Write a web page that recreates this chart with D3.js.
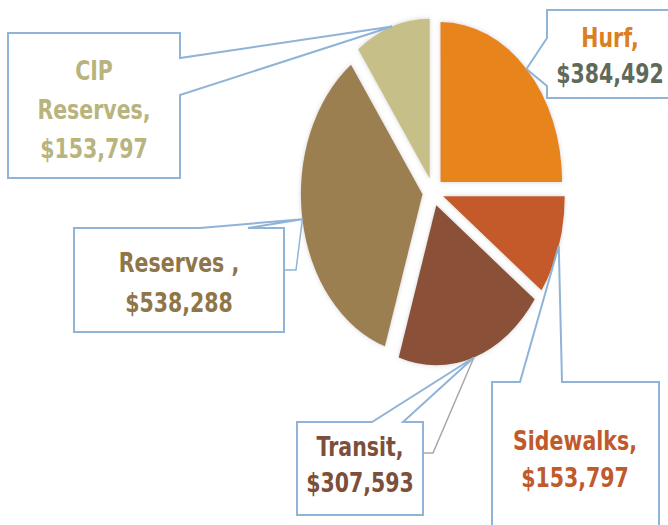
<!DOCTYPE html>
<html>
<head>
<meta charset="utf-8">
<script src="https://cdn.jsdelivr.net/npm/d3@7"></script>
<style>
  body { margin: 0; background: #fff; }
  svg { display: block; }
</style>
</head>
<body>
<div class="vis-pie"></div>
<script>
// data
const categories = ["Hurf", "Sidewalks", "Transit", "Reserves ", "CIP Reserves"];
const values = [384492, 153797, 307593, 538288, 153797];
const sliceColors = ["#E8841A", "#C45A2A", "#8A5139", "#9C7F51", "#C7BF88"];

// label text lines + colours (name line(s), value line)
const labelLines = [["Hurf,"], ["Sidewalks,"], ["Transit,"], ["Reserves ,"], ["CIP", "Reserves,"]];
const nameColors = ["#DB7F20", "#C05A2C", "#7D4F3B", "#8F7648", "#B9B47D"];
const valueColors = ["#5F6A5B", "#C05A2C", "#7D4F3B", "#8F7648", "#B9B47D"];

const width = 668, height = 525;
const cx = 433, cy = 192;
const R = 160, sx = 0.76, explode = 14;
const boxStroke = "#8FB4D8";

// callout boxes: rect + which edge carries the pointer base
const boxes = [
  {x: 547, y: 10, w: 140, h: 88, edge: "left", b0: 38, b1: 86, tx: 610, ty: 47, lh: 36},
  {x: 492, y: 382, w: 167, h: 160, edge: "top", b0: 520, b1: 562, tx: 575, ty: 450, lh: 37},
  {x: 297, y: 422, w: 126, h: 93, edge: "top", b0: 372, b1: 403, tx: 360, ty: 456, lh: 36,
   leader: [[423, 453], [433, 453]], leaderColor: "#A8A8A8"},
  {x: 74, y: 228, w: 210, h: 104, edge: "top", b0: 200, b1: 248, tx: 179, ty: 272, lh: 40,
   leader: [[284, 270], [296, 270]], leaderColor: boxStroke},
  {x: 8, y: 33, w: 172, h: 145, edge: "right", b0: 58, b1: 95, tx: 94, ty: 80, lh: 39}
];

const fmt = d3.format("$,");

const svg = d3.select(".vis-pie")
  .append("svg")
  .attr("width", width)
  .attr("height", height);

const defs = svg.append("defs");
const glow = defs.append("filter")
  .attr("id", "glow")
  .attr("x", "-20%").attr("y", "-20%")
  .attr("width", "140%").attr("height", "140%");
glow.append("feDropShadow")
  .attr("dx", 0).attr("dy", 0)
  .attr("stdDeviation", 2.5)
  .attr("flood-color", "#9a9a9a")
  .attr("flood-opacity", 0.45);

const pie = d3.pie().sort(null).value(d => d)(values);
const arc = d3.arc().innerRadius(0).outerRadius(R);

const mid = d => (d.startAngle + d.endAngle) / 2;

// slices
svg.append("g")
  .selectAll("path")
  .data(pie)
  .enter().append("path")
  .attr("transform", d => {
    const m = mid(d);
    return `translate(${cx + sx * explode * Math.sin(m)}, ${cy - explode * Math.cos(m)}) scale(${sx}, 1)`;
  })
  .attr("d", arc)
  .attr("fill", (d, i) => sliceColors[i])
  .attr("filter", "url(#glow)");

// tip point for each slice: outer edge at mid angle
const tips = pie.map(d => {
  const m = mid(d);
  return [cx + sx * (explode + R) * Math.sin(m), cy - (explode + R) * Math.cos(m)];
});

const callouts = svg.append("g");

boxes.forEach((b, i) => {
  const t = tips[i];
  const x0 = b.x, y0 = b.y, x1 = b.x + b.w, y1 = b.y + b.h;
  let pts;
  if (b.edge === "top") {
    pts = [[x0, y0], [b.b0, y0], t, [b.b1, y0], [x1, y0], [x1, y1], [x0, y1]];
  } else if (b.edge === "left") {
    pts = [[x0, y0], [x1, y0], [x1, y1], [x0, y1], [x0, b.b1], t, [x0, b.b0]];
  } else {
    pts = [[x0, y0], [x1, y0], [x1, b.b0], t, [x1, b.b1], [x1, y1], [x0, y1]];
  }
  callouts.append("path")
    .attr("d", "M" + pts.map(p => p.join(",")).join("L") + "Z")
    .attr("fill", "#fff")
    .attr("stroke", boxStroke)
    .attr("stroke-width", 2)
    .attr("stroke-linejoin", "miter");

  if (b.leader) {
    callouts.append("path")
      .attr("d", d3.line()(b.leader.concat([t])))
      .attr("fill", "none")
      .attr("stroke", b.leaderColor)
      .attr("stroke-width", 1.5);
  }

  const lines = labelLines[i].concat([fmt(values[i])]);
  const text = callouts.append("text")
    .attr("transform", `translate(${b.tx}, ${b.ty}) scale(${sx}, 1)`)
    .attr("text-anchor", "middle")
    .style("font-family", "'DejaVu Sans', sans-serif")
    .style("font-weight", "bold")
    .style("font-size", "27px");
  lines.forEach((s, j) => {
    text.append("tspan")
      .attr("x", 0)
      .attr("y", j * b.lh)
      .attr("fill", j === lines.length - 1 ? valueColors[i] : nameColors[i])
      .text(s);
  });
});
</script>
</body>
</html>
